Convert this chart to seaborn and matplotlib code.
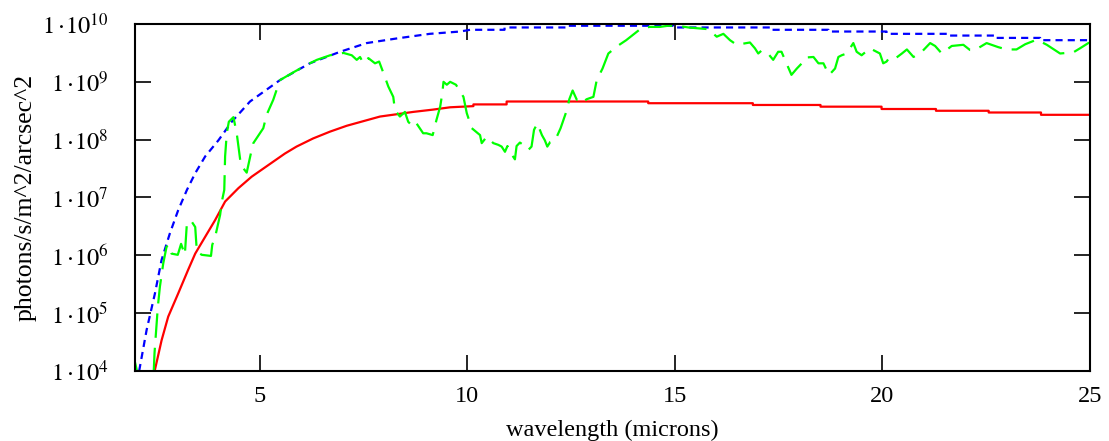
import math
import matplotlib
matplotlib.use("Agg")
import matplotlib.pyplot as plt
import seaborn as sns
from matplotlib.ticker import FixedLocator, FuncFormatter, NullLocator

# Thermal emission, stepped on the long-wavelength grid
red_wavelength = [2.40, 2.48, 2.64, 2.80, 3.04, 3.28, 3.45, 3.69, 3.93, 4.17, 4.49,
                  4.81, 5.21, 5.61, 5.89, 6.29, 6.70, 7.10, 7.50, 7.90, 8.30, 8.70,
                  9.18, 9.59, 10.15, 10.15, 10.95, 10.95, 14.36, 14.36, 16.88, 16.88,
                  18.51, 18.51, 19.98, 19.98, 21.29, 21.29, 22.56, 22.56, 23.82, 23.82, 25.0]
red_flux = [8.9e3, 1.05e4, 3.39e4, 8.71e4, 2.19e5, 5.62e5, 1.07e6, 2.09e6, 4.07e6, 8.51e6,
            1.45e7, 2.29e7, 3.63e7, 5.75e7, 7.59e7, 1.05e8, 1.38e8, 1.74e8, 2.09e8, 2.51e8,
            2.75e8, 3.02e8, 3.31e8, 3.63e8, 3.80e8, 4.07e8, 4.07e8, 4.57e8, 4.57e8, 4.27e8,
            4.27e8, 3.98e8, 3.98e8, 3.72e8, 3.72e8, 3.39e8, 3.39e8, 3.16e8, 3.16e8, 2.95e8,
            2.95e8, 2.69e8, 2.69e8]

# Blackbody envelope
blue_wavelength = [2.10, 2.28, 2.48, 2.64, 2.84, 3.04, 3.25, 3.45, 3.69, 4.01, 4.33, 4.77,
                   5.49, 6.21, 6.94, 7.58, 8.30, 9.10, 9.83, 10.07, 10.90, 10.90, 12.40,
                   12.40, 14.96, 14.96, 17.30, 17.30, 18.70, 18.70, 20.10, 20.10, 21.55,
                   21.55, 22.70, 22.70, 23.80, 23.80, 25.0]
blue_flux = [1.00e4, 5.13e4, 2.19e5, 8.32e5, 2.40e6, 6.03e6, 1.35e7, 2.63e7, 5.13e7, 9.77e7,
             2.04e8, 4.57e8, 1.07e9, 2.09e9, 3.31e9, 4.68e9, 5.62e9, 6.76e9, 7.41e9, 7.94e9,
             7.94e9, 8.71e9, 8.71e9, 9.33e9, 9.33e9, 8.71e9, 8.71e9, 7.94e9, 7.94e9, 7.41e9,
             7.41e9, 6.76e9, 6.76e9, 6.31e9, 6.31e9, 5.75e9, 5.75e9, 5.25e9, 5.25e9]

# Sky emission through the atmospheric transmission
green_wavelength = [2.00, 2.08, 2.20, 2.44, 2.47, 2.55, 2.60, 2.68, 2.76, 2.83, 2.88, 3.03,
                    3.11, 3.20, 3.25, 3.35, 3.45, 3.49, 3.61, 3.83, 3.86, 3.94, 4.05, 4.10,
                    4.15, 4.17, 4.21, 4.26, 4.37, 4.45, 4.55, 4.69, 4.79, 4.85, 5.09, 5.17,
                    5.33, 5.41, 5.49, 5.85, 6.21, 6.38, 6.70, 7.02, 7.22, 7.34, 7.42, 7.50,
                    7.62, 7.78, 7.88, 8.00, 8.10, 8.22, 8.26, 8.38, 8.50, 8.58, 8.70, 8.78,
                    8.94, 9.02, 9.17, 9.26, 9.35, 9.40, 9.43, 9.51, 9.59, 9.73, 9.91, 9.99,
                    10.11, 10.31, 10.35, 10.47, 10.63, 10.75, 10.83, 10.91, 10.97, 11.03,
                    11.15, 11.19, 11.27, 11.35, 11.47, 11.55, 11.61, 11.69, 11.80, 11.87,
                    11.93, 12.00, 12.12, 12.25, 12.40, 12.46, 12.54, 12.64, 12.72, 12.80,
                    12.88, 13.04, 13.12, 13.26, 13.40, 13.60, 13.83, 14.04, 14.20, 14.40,
                    14.64, 14.84, 15.05, 15.33, 15.81, 16.01, 16.17, 16.33, 16.49, 16.73,
                    16.81, 16.93, 17.01, 17.09, 17.21, 17.37, 17.49, 17.57, 17.69, 17.81,
                    17.94, 18.06, 18.14, 18.34, 18.46, 18.58, 18.66, 18.72, 18.86, 18.94,
                    19.02, 19.14, 19.30, 19.38, 19.50, 19.70, 19.94, 20.02, 20.10, 20.18,
                    20.34, 20.47, 20.59, 20.75, 20.95, 21.15, 21.27, 21.43, 21.67, 21.95,
                    22.11, 22.23, 22.51, 22.79, 22.99, 23.23, 23.44, 23.72, 23.96, 24.28,
                    24.60, 24.76, 24.96, 25.00]
green_flux = [1.41e4, 7.94e3, 3.16e3, 6.31e3, 2.04e4, 1.29e5, 2.88e5, 7.24e5, 1.41e6, 1.51e6,
              1.07e6, 1.02e6, 1.58e6, 1.02e6, 3.63e6, 3.98e6, 3.09e6, 1.15e6, 1.02e6, 9.77e5,
              1.51e6, 2.24e6, 5.01e6, 9.12e6, 1.35e7, 5.13e7, 1.29e8, 2.04e8, 2.45e8, 1.29e8,
              3.63e7, 2.69e7, 5.75e7, 8.71e7, 1.58e8, 2.69e8, 4.90e8, 7.24e8, 1.07e9, 1.51e9,
              2.09e9, 2.40e9, 2.88e9, 3.16e9, 2.88e9, 2.40e9, 2.69e9, 2.09e9, 2.57e9, 2.09e9,
              2.24e9, 1.32e9, 8.32e8, 5.50e8, 3.24e8, 2.51e8, 3.02e8, 2.04e8, 1.66e8, 1.91e8,
              1.29e8, 1.29e8, 1.20e8, 2.19e8, 3.72e8, 6.31e8, 1.00e9, 8.91e8, 1.00e9, 8.91e8,
              5.50e8, 2.88e8, 1.58e8, 1.20e8, 8.71e7, 1.12e8, 8.71e7, 8.13e7, 7.59e7, 6.17e7,
              7.76e7, 6.17e7, 4.57e7, 7.76e7, 8.91e7, 8.13e7, 6.61e7, 7.59e7, 1.48e8, 1.91e8,
              1.20e8, 9.77e7, 7.59e7, 9.12e7, 9.77e7, 1.58e8, 3.24e8, 5.01e8, 7.08e8, 4.90e8,
              5.25e8, 4.57e8, 5.01e8, 5.50e8, 1.07e9, 1.70e9, 3.09e9, 4.07e9, 5.25e9, 6.92e9,
              8.51e9, 8.91e9, 8.91e9, 9.33e9, 9.33e9, 8.71e9, 8.13e9, 6.03e9, 6.76e9, 5.25e9,
              4.37e9, 4.68e9, 4.79e9, 3.80e9, 3.09e9, 3.47e9, 3.31e9, 2.40e9, 3.31e9, 3.31e9,
              2.09e9, 1.32e9, 1.70e9, 2.09e9, 2.63e9, 2.69e9, 2.09e9, 2.09e9, 1.58e9, 1.32e9,
              1.70e9, 2.69e9, 2.88e9, 3.09e9, 4.68e9, 3.31e9, 2.88e9, 3.80e9, 3.09e9, 2.09e9,
              2.24e9, 2.69e9, 2.63e9, 3.09e9, 3.63e9, 2.69e9, 3.31e9, 4.68e9, 4.17e9, 3.09e9,
              4.17e9, 4.37e9, 3.55e9, 3.55e9, 4.68e9, 3.98e9, 3.63e9, 3.63e9, 4.47e9, 5.37e9,
              4.37e9, 3.09e9, 3.24e9, 3.80e9, 4.68e9, 4.79e9]

x_ticks = [5, 10, 15, 20, 25]
y_ticks = [1e4, 1e5, 1e6, 1e7, 1e8, 1e9, 1e10]
x_label = "wavelength (microns)"
y_label = "photons/s/m^2/arcsec^2"

sns.set_theme(style="ticks")
plt.rcParams["font.family"] = ["Liberation Serif", "DejaVu Serif"]
plt.rcParams["mathtext.fontset"] = "stix"

W, H = 1109, 441
fig = plt.figure(figsize=(W / 100, H / 100), dpi=100)
ax = fig.add_axes([135 / W, 1 - 371 / H, 955 / W, 347 / H])

line_w = 1.6
sns.lineplot(x=red_wavelength, y=red_flux, ax=ax, color="#ff0000", lw=line_w,
             estimator=None, sort=False)
sns.lineplot(x=blue_wavelength, y=blue_flux, ax=ax, color="#0000ff", lw=line_w,
             estimator=None, sort=False)
sns.lineplot(x=green_wavelength, y=green_flux, ax=ax, color="#00ff00", lw=line_w,
             estimator=None, sort=False)
ax.lines[1].set_dashes((3.2, 2.3))
ax.lines[2].set_dashes((11, 4.5))
for ln in ax.lines:
    ln.set_solid_capstyle("butt")
    ln.set_dash_capstyle("butt")


def decade_label(v, pos):
    return r"$1\cdot\!10^{%d}$" % round(math.log10(v))


ax.set_yscale("log")
ax.set_xlim(2, 25)
ax.set_ylim(1e4, 1e10)
ax.xaxis.set_major_locator(FixedLocator(x_ticks))
ax.yaxis.set_major_locator(FixedLocator(y_ticks))
ax.yaxis.set_minor_locator(NullLocator())
ax.xaxis.set_minor_locator(NullLocator())
ax.xaxis.set_major_formatter(FuncFormatter(lambda v, p: f"{v:g}"))
ax.yaxis.set_major_formatter(FuncFormatter(decade_label))

ax.tick_params(axis="both", which="major", direction="in", length=11.5, width=1.2,
               color="black", top=True, right=True, labelsize=17.5, labelcolor="black")
ax.tick_params(axis="x", pad=11)
ax.tick_params(axis="y", pad=19)
for sp in ax.spines.values():
    sp.set_visible(True)
    sp.set_linewidth(1.5)
    sp.set_color("black")

ax.set_xlabel(x_label, fontsize=17.5, color="black", labelpad=9)
ax.set_ylabel(y_label, fontsize=18.5, color="black", labelpad=4)
ax.grid(False)

fig.savefig("out.png", dpi=100, facecolor="white")
